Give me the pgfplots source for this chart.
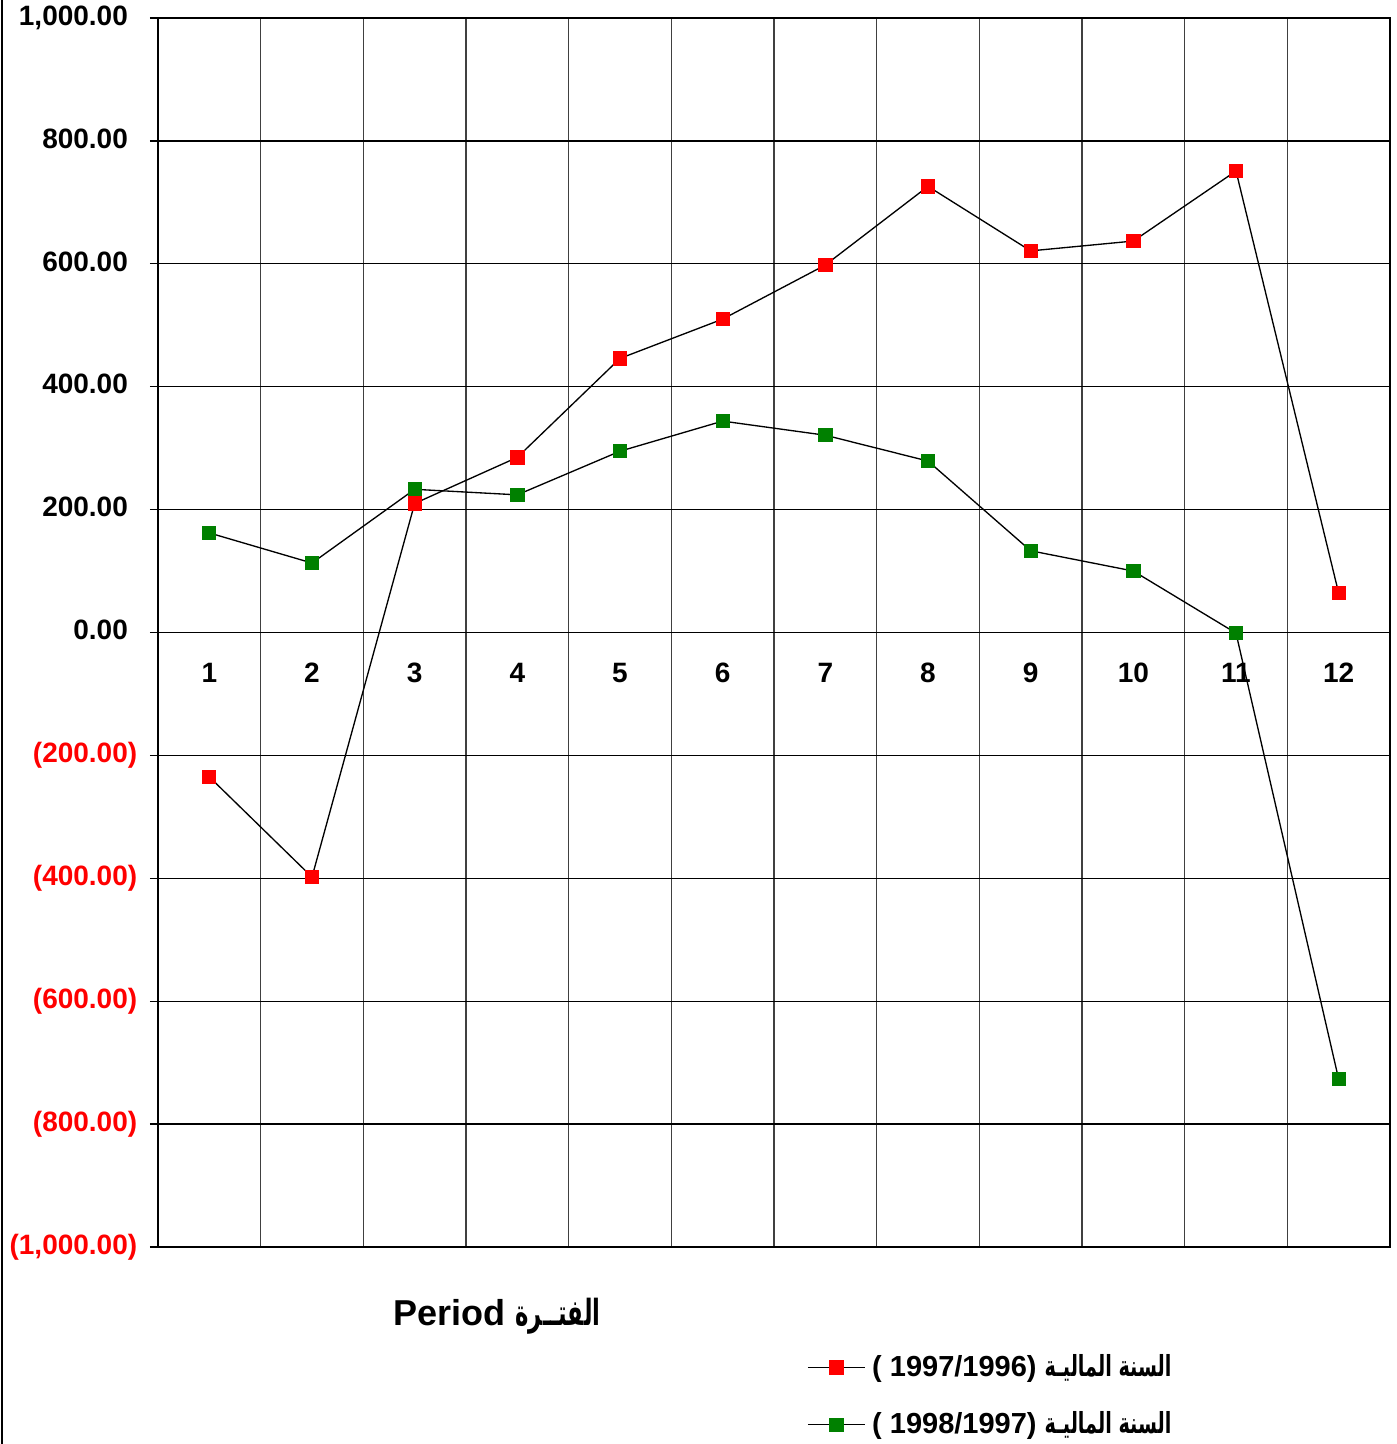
\documentclass[border=0pt]{standalone}
\usepackage{fontspec}
\setmainfont{Liberation Sans}
\newfontfamily\arabicfont[Script=Arabic]{DejaVu Sans}
\TeXXeTstate=1
\usepackage{graphicx}
\usepackage{pgfplots}
\pgfplotsset{compat=1.18}
\definecolor{mred}{HTML}{FF0000}
\definecolor{mgreen}{HTML}{008000}
\newcommand\ar[2]{\resizebox{#1}{\height}{\arabicfont\bfseries #2}}
\begin{document}
\begin{tikzpicture}
\useasboundingbox (-47.4pt,-59.1pt) rectangle (371.7pt,374.1pt);
\begin{axis}[
  at={(0,0)}, anchor=south west,
  scale only axis,
  width=369.6pt, height=368.7pt,
  xmin=0.5, xmax=12.5,
  ymin=-1000, ymax=1000,
  ytick={-1000,-800,...,1000},
  xtick={1,...,12},
  minor xtick={1.5,2.5,...,11.5},
  xminorgrids=true,
  ymajorgrids=true,
  minor x grid style={draw=black!75, line width=0.4pt},
  major y grid style={draw=black, line width=0.4pt},
  axis line style={draw=black, line width=0.4pt},
  xtick style={draw=none},
  minor tick length=0pt,
  ytick style={draw=black, line width=0.4pt},
  ytick pos=left,
  tick align=outside,
  major tick length=2.4pt,
  /pgf/number format/assume math mode=true,
  ticklabel style={font=\fontsize{8.4}{10}\selectfont\bfseries},
  xticklabel style={anchor=north, yshift=181.1pt},
  yticklabel style={xshift=-0.3pt},
  yticklabel={%
    \pgfmathsetmacro\myabs{abs(\tick)}%
    \ifdim\tick pt<-0.1pt
      \textcolor{mred}{(\pgfmathprintnumber[fixed,fixed zerofill,precision=2,1000 sep={,}]{\myabs})}%
    \else
      \pgfmathprintnumber[fixed,fixed zerofill,precision=2,1000 sep={,}]{\myabs}\phantom{)}%
    \fi},
  legend style={draw=none, fill=none, at={(0.5265,-0.0812)}, anchor=north west,
    inner sep=0pt, row sep=5.0pt,
    font=\fontsize{8.7}{10}\selectfont\bfseries},
  legend cell align=left,
  every axis plot/.append style={line width=0.4pt},
]
\addplot[black, mark=square*, mark size=1.95pt, mark options={draw=mred, fill=mred}]
 coordinates {(1,-235) (2,-398) (3,210) (4,285) (5,446) (6,510) (7,598) (8,726) (9,621) (10,637) (11,751) (12,64)};
\addlegendentry{( 1997/1996) \ar{38pt}{\beginR السنة الماليـة\endR}}
\addplot[black, mark=square*, mark size=1.95pt, mark options={draw=mgreen, fill=mgreen}]
 coordinates {(1,162) (2,113) (3,233) (4,224) (5,295) (6,344) (7,321) (8,279) (9,133) (10,100) (11,-1) (12,-727)};
\addlegendentry{( 1998/1997) \ar{38pt}{\beginR السنة الماليـة\endR}}
\end{axis}
\draw[black, line width=0.6pt] (-46.8pt,-59.1pt) -- (-46.8pt,374.1pt);
\node[font=\fontsize{10.8}{13}\selectfont\bfseries, anchor=center] at (101.7pt,-20.7pt)
  {Period \ar{25.5pt}{\beginR الفتــرة\endR}};
\end{tikzpicture}
\end{document}
